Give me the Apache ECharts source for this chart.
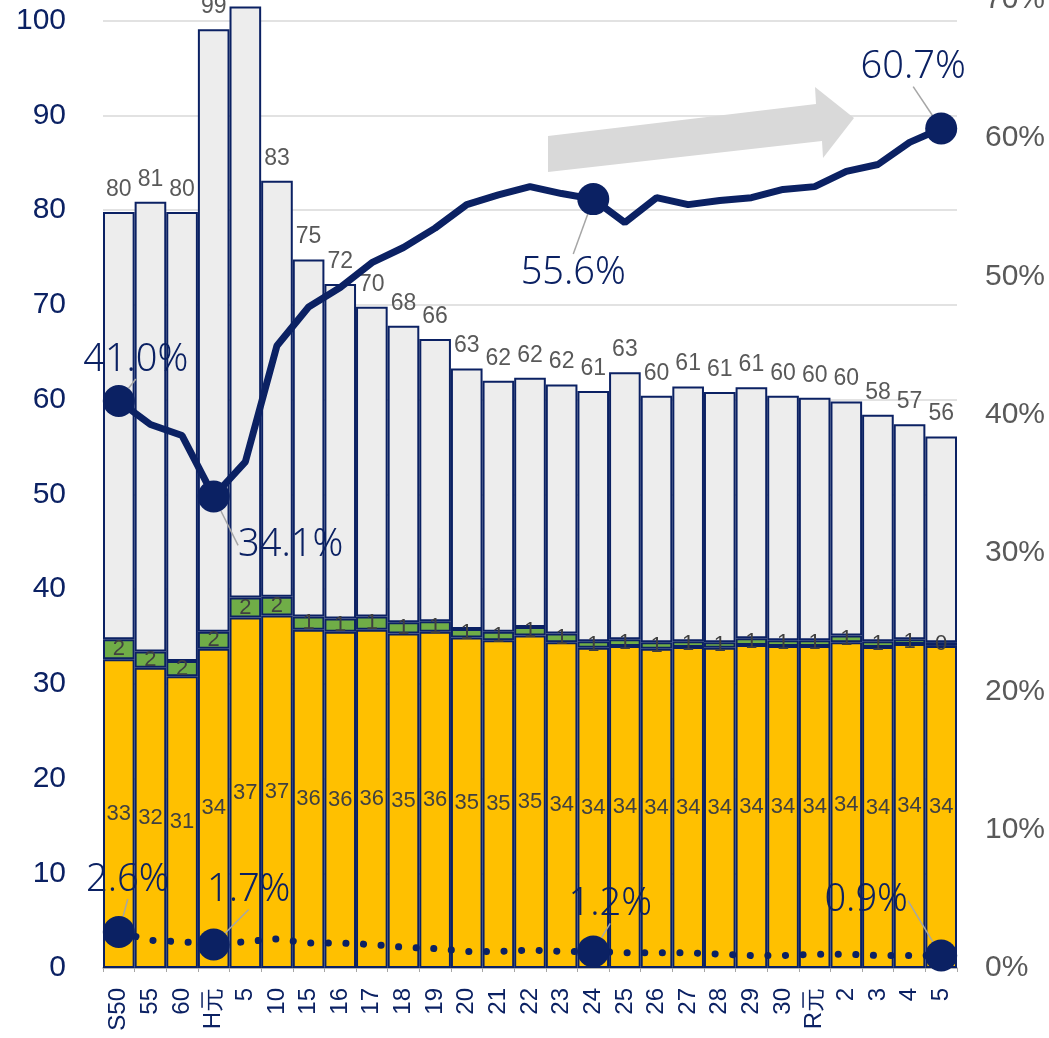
<!DOCTYPE html>
<html>
<head>
<meta charset="utf-8">
<script src="https://cdn.jsdelivr.net/npm/echarts@6/dist/echarts.min.js"></script>
<style>
  html, body { margin: 0; padding: 0; background: #fff; }
  #chart { width: 1049px; height: 1038px; }
</style>
</head>
<body>
<div id="chart"></div>
<script>
// Fiscal-year categories (Showa / Heisei / Reiwa)
const years = ['S50','55','60','H元','5','10','15','16','17','18','19','20','21','22','23','24','25','26','27','28','29','30','R元','2','3','4','5'];

// Stacked bar components (left axis)
const partMain  = [32.6, 31.7, 30.8, 33.7, 37.0, 37.2, 35.7, 35.5, 35.7, 35.3, 35.5, 34.9, 34.6, 35.1, 34.4, 33.8, 34.0, 33.7, 33.9, 33.8, 34.1, 34.0, 34.0, 34.4, 33.9, 34.2, 34.0];
const partMid   = [2.1, 1.7, 1.6, 1.8, 2.1, 2.0, 1.4, 1.4, 1.4, 1.2, 1.1, 0.9, 0.9, 0.9, 0.9, 0.7, 0.7, 0.7, 0.6, 0.6, 0.7, 0.6, 0.6, 0.7, 0.6, 0.5, 0.4];
const partRest  = [45.1, 47.5, 47.4, 63.6, 62.4, 43.9, 37.7, 35.3, 32.7, 31.3, 29.8, 27.5, 26.5, 26.3, 26.3, 26.4, 28.2, 26.0, 26.9, 26.4, 26.5, 25.8, 25.6, 24.7, 23.9, 22.7, 21.7];

// Ratio lines (right axis, %)
const shareMain = [41.0, 39.3, 38.5, 34.1, 36.6, 45.0, 47.8, 49.2, 51.0, 52.1, 53.5, 55.2, 55.9, 56.5, 56.0, 55.6, 53.9, 55.7, 55.2, 55.5, 55.7, 56.3, 56.5, 57.6, 58.1, 59.7, 60.7];
const shareMid  = [2.6, 2.0, 1.9, 1.7, 1.9, 2.1, 1.8, 1.8, 1.7, 1.5, 1.4, 1.2, 1.2, 1.3, 1.2, 1.2, 1.1, 1.1, 1.1, 1.0, 0.9, 0.9, 1.0, 1.0, 0.9, 0.9, 0.9];

// Points that get a large marker and a value callout, with label offsets
const calloutIdx = [0, 3, 15, 26];
const shareMainOffsets = { 0: [17, -41], 3: [77, 49], 15: [-20, 74], 26: [-28, -61] };
const shareMidOffsets  = { 0: [9, -52], 3: [35, -54], 15: [17, -47], 26: [-75, -55] };

// Left axis tick labels
const leftTicks = [0, 10, 20, 30, 40, 50, 60, 70, 80, 90, 100];

const NAVY = '#0B2163';
const totals = partMain.map((v, i) => v + partMid[i] + partRest[i]);

function pointItems(values) {
  return values.map((v, i) => calloutIdx.includes(i)
    ? { value: v, symbol: 'circle', symbolSize: 32, label: { show: true }, labelLine: { show: true } }
    : { value: v, symbol: 'none' });
}

function callout() {
  return {
    show: false,
    position: 'inside',
    formatter: p => p.value.toFixed(1) + '%',
    fontFamily: 'Noto Sans',
    fontWeight: 300,
    fontSize: 38,
    color: NAVY
  };
}

const chart = echarts.init(document.getElementById('chart'));
chart.setOption({
  animation: false,
  backgroundColor: '#ffffff',
  grid: { left: 103, right: 92, top: -2, bottom: 70, containLabel: false, outerBoundsMode: 'none' },
  graphic: [{
    type: 'polygon',
    z: 0,
    shape: { points: [[548, 136], [816, 104], [815, 87], [854, 118], [823, 158], [822, 141], [548, 172]] },
    style: { fill: '#D9D9D9' }
  }],
  xAxis: {
    type: 'category',
    data: years,
    axisLine: { lineStyle: { color: '#A6A6A6', width: 1.5 } },
    axisTick: { show: true, length: 4, lineStyle: { color: '#A6A6A6' } },
    axisLabel: {
      rotate: 90,
      margin: 20,
      interval: 0,
      color: NAVY,
      fontFamily: 'Liberation Sans',
      fontSize: 24
    }
  },
  yAxis: [{
    type: 'value',
    min: 0,
    max: 102.4,
    interval: 10,
    axisLine: { show: false },
    axisTick: { show: false },
    splitLine: { lineStyle: { color: '#D9D9D9', width: 1.5 } },
    axisLabel: {
      margin: 37,
      showMaxLabel: false,
      formatter: v => leftTicks.includes(v) ? String(v) : '',
      color: NAVY,
      fontFamily: 'Liberation Sans',
      fontSize: 30
    }
  }, {
    type: 'value',
    min: 0,
    max: 70.14,
    interval: 10,
    axisLine: { show: false },
    axisTick: { show: false },
    splitLine: { show: false },
    axisLabel: {
      margin: 28,
      showMaxLabel: false,
      formatter: v => (v % 10 === 0) ? v + '%' : '',
      color: '#595959',
      fontFamily: 'Liberation Sans',
      fontSize: 30
    }
  }],
  series: [{
    name: 'main',
    type: 'bar',
    stack: 'total',
    data: partMain,
    barCategoryGap: '0%',
    itemStyle: { color: '#FFC000', borderColor: NAVY, borderWidth: 2 },
    label: {
      show: true, position: 'inside',
      formatter: p => Math.round(p.value),
      color: '#404040', fontFamily: 'Liberation Sans', fontSize: 22
    }
  }, {
    name: 'mid',
    type: 'bar',
    stack: 'total',
    data: partMid,
    itemStyle: { color: '#70AD47', borderColor: NAVY, borderWidth: 2 },
    label: {
      show: true, position: 'inside',
      formatter: p => Math.round(p.value),
      color: '#404040', fontFamily: 'Liberation Sans', fontSize: 22
    }
  }, {
    name: 'rest',
    type: 'bar',
    stack: 'total',
    data: partRest,
    itemStyle: { color: '#EDEDED', borderColor: NAVY, borderWidth: 2 },
    label: {
      show: true, position: 'top', distance: 11,
      formatter: p => Math.round(totals[p.dataIndex]),
      color: '#595959', fontFamily: 'Liberation Sans', fontSize: 23
    }
  }, {
    name: 'shareMain',
    type: 'line',
    yAxisIndex: 1,
    z: 5,
    data: pointItems(shareMain),
    lineStyle: { color: NAVY, width: 7 },
    itemStyle: { color: NAVY },
    label: callout(),
    labelLine: { show: false, lineStyle: { color: '#A6A6A6', width: 1.5 } },
    labelLayout: p => {
      const o = shareMainOffsets[p.dataIndex];
      return o ? { dx: o[0], dy: o[1] } : {};
    }
  }, {
    name: 'shareMid',
    type: 'line',
    yAxisIndex: 1,
    z: 5,
    data: pointItems(shareMid),
    lineStyle: { color: NAVY, width: 7, type: [0.1, 17.5], cap: 'round' },
    itemStyle: { color: NAVY },
    label: callout(),
    labelLine: { show: false, lineStyle: { color: '#A6A6A6', width: 1.5 } },
    labelLayout: p => {
      const o = shareMidOffsets[p.dataIndex];
      return o ? { dx: o[0], dy: o[1] } : {};
    }
  }]
});
</script>
</body>
</html>
